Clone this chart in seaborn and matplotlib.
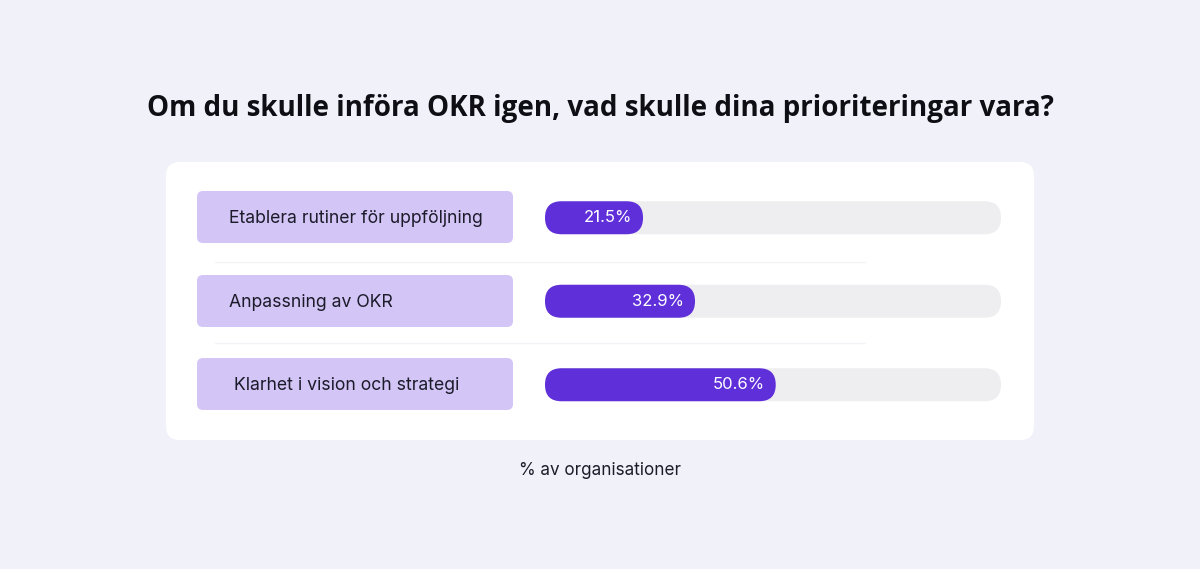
import pandas as pd
import seaborn as sns
import matplotlib.pyplot as plt
from matplotlib.patches import FancyBboxPatch

# data
categories = ["Etablera rutiner för uppföljning", "Anpassning av OKR", "Klarhet i vision och strategi"]
values = [21.5, 32.9, 50.6]
track = [100, 100, 100]
title = "Om du skulle införa OKR igen, vad skulle dina prioriteringar vara?"
xlabel = "% av organisationer"

BG = "#F1F2F9"
PURPLE = "#5F2FD9"
TRACK = "#EEEEF0"
LABEL_BG = "#D3C5F6"
TXT = "#1B1B2A"

sns.set_theme(style="white")
plt.rcParams["font.family"] = ["Inter", "DejaVu Sans"]

W, H = 1200, 569
fig = plt.figure(figsize=(12, 5.69), dpi=100)
fig.patch.set_facecolor(BG)

# background layer in pixel coordinates
bg = fig.add_axes([0, 0, 1, 1])
bg.set_xlim(0, W)
bg.set_ylim(H, 0)
bg.axis("off")
bg.add_patch(FancyBboxPatch((166, 162), 868, 278, boxstyle="round,pad=0,rounding_size=14",
                            fc="white", ec="none"))
row_top = [191, 275, 358]
text_x = [229, 229, 234]
for top, tx, cat in zip(row_top, text_x, categories):
    bg.add_patch(FancyBboxPatch((197, top), 316, 52, boxstyle="round,pad=0,rounding_size=6",
                                fc=LABEL_BG, ec="none"))
    bg.text(tx, top + 27, cat, ha="left", va="center", fontsize=12.7, color=TXT)
for y in [262, 343]:
    bg.plot([215, 865], [y, y], color="#F4F4F8", lw=1)

bg.text(600, 108, title, ha="center", va="center", fontsize=20, fontweight="bold",
        color="#0E0E14", family=["Open Sans", "DejaVu Sans"])
bg.text(600, 470, xlabel, ha="center", va="center", fontsize=12.3, color=TXT)

# bars
ax_px = (545, 176, 456, 250.5)  # left, top, width, height in px
ax = fig.add_axes([ax_px[0] / W, 1 - (ax_px[1] + ax_px[3]) / H, ax_px[2] / W, ax_px[3] / H])
ax.patch.set_alpha(0)
df = pd.DataFrame({"kategori": categories, "andel": values, "spar": track})
sns.barplot(data=df, x="spar", y="kategori", color=TRACK, width=0.395, saturation=1, ax=ax)
sns.barplot(data=df, x="andel", y="kategori", color=PURPLE, width=0.395, saturation=1, ax=ax)
ax.set_xlim(0, 100)
ax.set_ylim(2.5, -0.5)
ax.axis("off")

# rounded ends on the bars
px_x = ax_px[2] / 100
px_y = ax_px[3] / 3
for z, p in enumerate(list(ax.patches)):
    x, y, w, h = p.get_x(), p.get_y(), p.get_width(), p.get_height()
    fc = p.get_facecolor()
    p.remove()
    r = abs(h) / 2 * px_y / px_x
    ax.add_patch(FancyBboxPatch((x, y), w, h, boxstyle=f"round,pad=0,rounding_size={r}",
                                mutation_aspect=px_x / px_y, fc=fc, ec="none", zorder=2 + z // 3))

for i, v in enumerate(values):
    ax.text(v - 2.4, i, f"{v}%", ha="right", va="center", color="white", fontsize=12, zorder=5)

fig.savefig("out.png", dpi=100, facecolor=BG)
